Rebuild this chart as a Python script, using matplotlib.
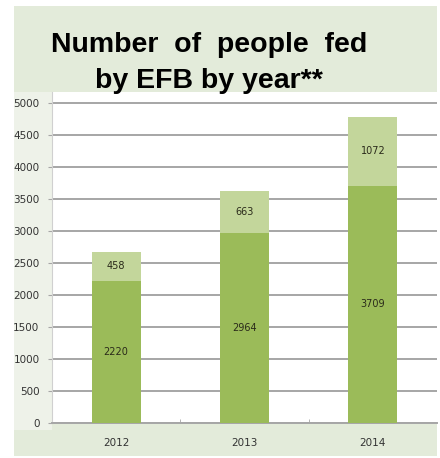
import matplotlib.pyplot as plt
from matplotlib.patches import Rectangle

# data
YEARS = ['2012', '2013', '2014']
BASE = [2220, 2964, 3709]
EXTRA = [458, 663, 1072]
Y_TICKS = [0, 500, 1000, 1500, 2000, 2500, 3000, 3500, 4000, 4500, 5000]

W, H = 440, 458
fig = plt.figure(figsize=(W / 100, H / 100), dpi=100, facecolor='white')

def fx(px):
    return px / W

def fy(py):
    return 1 - py / H

# light green panel behind everything
fig.patches.append(Rectangle((fx(14), fy(456)), fx(437) - fx(14), fy(6) - fy(456),
                             transform=fig.transFigure, facecolor='#e3ebda',
                             edgecolor='none', zorder=-2))
# paler strip behind the y tick labels
fig.patches.append(Rectangle((fx(14), fy(430)), fx(52) - fx(14), fy(92) - fy(430),
                             transform=fig.transFigure, facecolor='#eef2e9',
                             edgecolor='none', zorder=-1))

ax = fig.add_axes([fx(52), fy(423), fx(437) - fx(52), fy(92) - fy(423)])
ax.set_facecolor('white')

x = range(len(YEARS))
ax.bar(x, BASE, width=0.38, color='#9bbb59', zorder=3)
ax.bar(x, EXTRA, bottom=BASE, width=0.38, color='#c3d69b', zorder=3)

for i in x:
    ax.text(i, BASE[i] / 2, str(BASE[i]), ha='center', va='center',
            fontsize=7, color='#2a2a1a', zorder=4)
    ax.text(i, BASE[i] + EXTRA[i] / 2, str(EXTRA[i]), ha='center', va='center',
            fontsize=7, color='#2a2a1a', zorder=4)

ax.set_xlim(-0.5, 2.5)
ax.set_ylim(0, 5172)
ax.set_yticks(Y_TICKS)
ax.set_yticklabels([str(v) for v in Y_TICKS])
ax.yaxis.grid(True, color='#a6a6a6', linewidth=1.4, zorder=1)
ax.set_axisbelow(True)

ax.set_xticks(list(x))
ax.set_xticklabels(YEARS)
ax.set_xticks([0.5, 1.5], minor=True)
ax.tick_params(axis='x', which='major', length=0, pad=11, labelsize=7.5, labelcolor='#333333')
ax.tick_params(axis='x', which='minor', length=3, color='#a6a6a6', direction='in')
ax.tick_params(axis='y', length=3, pad=6, labelsize=7.5, labelcolor='#333333', color='#a6a6a6')

for s in ['top', 'right']:
    ax.spines[s].set_visible(False)
ax.spines['bottom'].set_color('#a6a6a6')
ax.spines['bottom'].set_linewidth(1.4)
ax.spines['left'].set_color('#d0d0d0')

fig.text(fx(209), fy(52), 'Number  of  people  fed', ha='center', va='baseline',
         fontsize=20.5, fontweight='bold', family='Liberation Sans', color='black',
         zorder=5)
fig.text(fx(209), fy(88), 'by EFB by year**', ha='center', va='baseline',
         fontsize=20.5, fontweight='bold', family='Liberation Sans', color='black',
         zorder=5)

fig.savefig('out.png', dpi=100, facecolor='white')
